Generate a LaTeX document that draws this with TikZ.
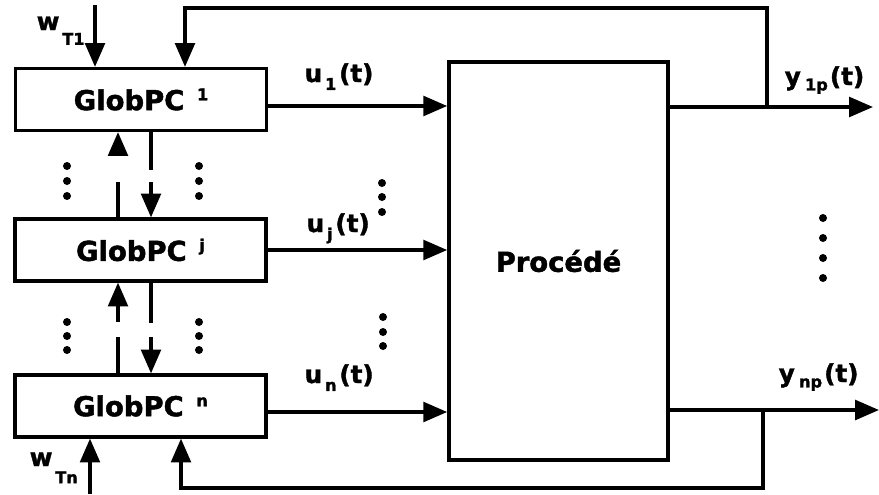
\documentclass[tikz,border=0pt]{standalone}
\usepackage{fontspec}
\setmainfont{DejaVu Sans}[BoldFeatures={FakeBold=1.6}]
\usetikzlibrary{arrows.meta}

% small raised / lowered indices in the heavy label font
\newcommand\hiidx[1]{\raisebox{0.36em}{\fontsize{11.5}{12}\selectfont #1}}
\newcommand\loidx[2][0.32em]{\raisebox{-#1}{\fontsize{11.5}{12}\selectfont #2}}

\begin{document}
\begin{tikzpicture}[x=0.025cm,y=-0.025cm,
  line width=2.5pt,
  arr/.style={-{Triangle[length=17pt,width=14pt]}},
  ctrl/.style={draw,line width=2.5pt,minimum width=6.28cm,minimum height=1.54cm,inner sep=0pt,
    font=\fontsize{19.5}{22}\selectfont\bfseries},
  plant/.style={draw,line width=2.5pt,minimum width=5.475cm,minimum height=9.95cm,inner sep=0pt,
    font=\fontsize{19.5}{22}\selectfont\bfseries},
  lbl/.style={inner sep=0pt,anchor=base west,font=\fontsize{17.5}{20}\selectfont\bfseries},
  dot/.style={circle,fill,inner sep=0pt,minimum size=0.2cm}]

\useasboundingbox (0,0) rectangle (879,494);

% controller blocks and the process
\node[ctrl]  (g1)   at (141,99.5) {GlobPC\kern9pt\hiidx{1}};
\node[ctrl]  (gj)   at (140.5,250) {GlobPC\kern9pt\hiidx{j}};
\node[ctrl]  (gn)   at (140.5,406) {GlobPC\kern9pt\hiidx{n}};
\node[plant] (proc) at (558.5,261) {Procédé};

% free ends and bends of the connectors
\coordinate (wT1in) at (95,5);
\coordinate (wTnin) at (90,494);
\coordinate (y1end) at (873,107);
\coordinate (ynend) at (879,410);
\coordinate (tap1)  at (767,107);
\coordinate (tapn)  at (763,410);
\coordinate (fb1a)  at (767,8);
\coordinate (fb1b)  at (185,8);
\coordinate (fbna)  at (763,488);
\coordinate (fbnb)  at (181,488);
\coordinate (ru1)   at (0,106);
\coordinate (ruj)   at (0,250);
\coordinate (run)   at (0,412);
\coordinate (up)    at (118,0);
\coordinate (dn)    at (151,0);
\coordinate (up1)   at (118,153);
\coordinate (up2)   at (118,182);
\coordinate (dn1)   at (151,170);
\coordinate (dn2)   at (151,182);
\coordinate (up3)   at (118,322);
\coordinate (up4)   at (118,337);
\coordinate (dn3)   at (151,323);
\coordinate (dn4)   at (151,337);

% control signals
\draw[arr] (g1.east |- ru1) -- (proc.west |- ru1);
\draw[arr] (gj.east |- ruj) -- (proc.west |- ruj);
\draw[arr] (gn.east |- run) -- (proc.west |- run);
\node[lbl] (u1) at (303,82)  {u\kern2pt\loidx{1}\kern2pt(t)};
\node[lbl] (uj) at (305,232) {u\kern2pt\loidx{j}\kern2pt(t)};
\node[lbl] (un) at (303,383) {u\kern2pt\loidx{n}\kern2pt(t)};

% outputs
\draw[arr] (proc.east |- y1end) -- (y1end);
\draw[arr] (proc.east |- ynend) -- (ynend);
\node[lbl] (y1) at (783,85)  {y\kern3pt\loidx[0.22em]{1p}\kern1.5pt(t)};
\node[lbl] (yn) at (777,382) {y\kern3pt\loidx[0.22em]{np}\kern1.5pt(t)};

% feedback loops
\draw[arr] (tap1) -- (fb1a) -- (fb1b) -- (g1.north -| fb1b);
\draw[arr] (tapn) -- (fbna) -- (fbnb) -- (gn.south -| fbnb);

% set-point inputs
\draw[arr] (wT1in) -- (g1.north -| wT1in);
\draw[arr] (wTnin) -- (gn.south -| wTnin);
\node[lbl] (w1) at (35,30)  {w\kern2pt\loidx[0.6em]{T1}};
\node[lbl] (wn) at (28,466) {w\kern2pt\loidx[0.7em]{Tn}};

% broken links between neighbouring controllers
\draw[arr] (up1) -- (g1.south -| up);
\draw      (gj.north -| up) -- (up2);
\draw      (g1.south -| dn) -- (dn1);
\draw[arr] (dn2) -- (gj.north -| dn);
\draw[arr] (up3) -- (gj.south -| up);
\draw      (gn.north -| up) -- (up4);
\draw      (gj.south -| dn) -- (dn3);
\draw[arr] (dn4) -- (gn.north -| dn);

% ellipsis dots
\foreach \y in {166,181,196,322,336,350} {
  \node[dot] at (67,\y) {};
  \node[dot] at (199,\y) {};
}
\foreach \y in {183,197,212} \node[dot] at (382,\y) {};
\foreach \y in {317,332,346} \node[dot] at (383,\y) {};
\foreach \y in {218,238,258,278} \node[dot] at (823,\y) {};
\end{tikzpicture}
\end{document}
